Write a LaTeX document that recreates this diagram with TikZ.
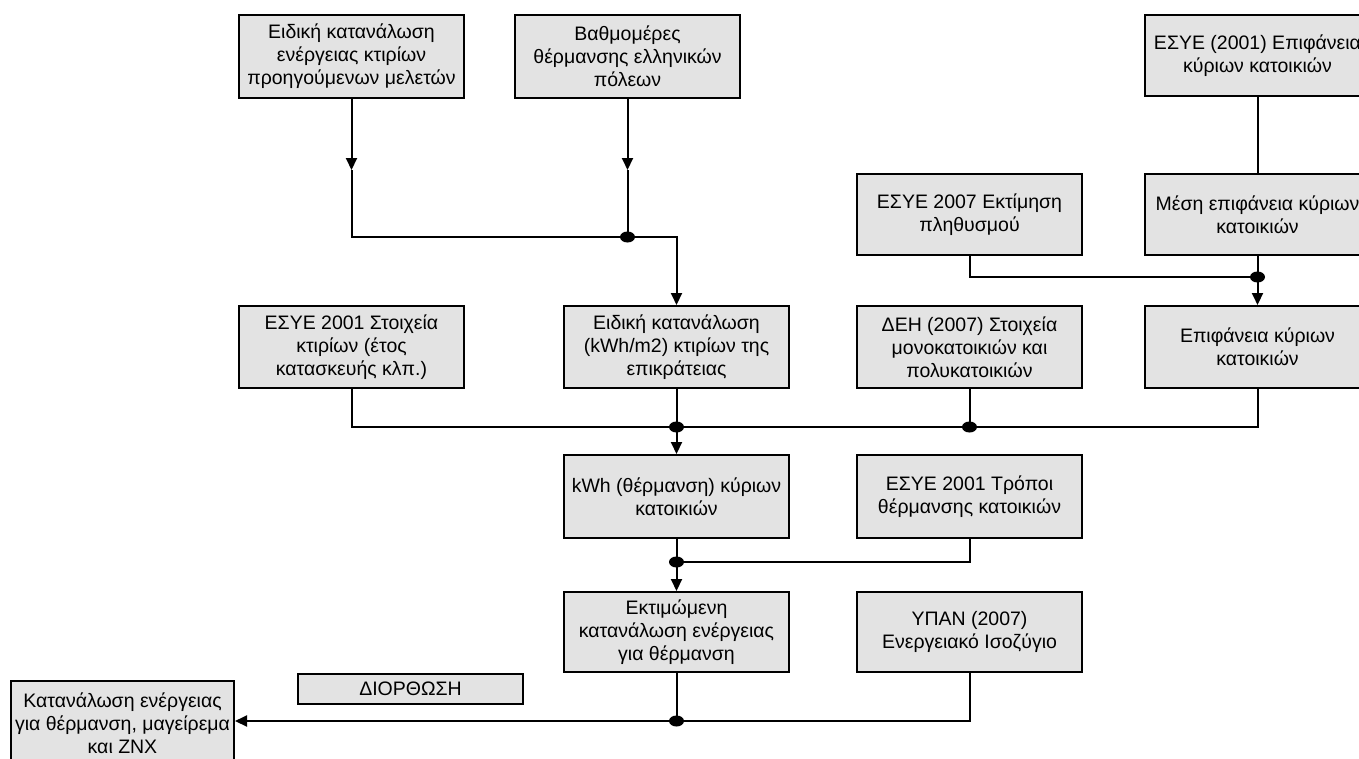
\documentclass[tikz,border=0pt]{standalone}
\usepackage{fontspec}
\setmainfont{Liberation Sans}
\usetikzlibrary{arrows.meta,shapes.geometric}
\definecolor{boxfill}{RGB}{227,227,227}
\begin{document}
\begin{tikzpicture}[x=1pt,y=-1pt,
  box/.style={draw=black, line width=2pt, fill=boxfill, align=center,
    font=\fontsize{19.5}{23}\selectfont, inner sep=0pt, anchor=north west,
    minimum width=225pt, minimum height=83pt},
  conn/.style={line width=2pt, line join=miter},
  arr/.style={conn, -{Triangle[length=12pt,width=11pt]}},
  dot/.style={ellipse, fill=black, inner sep=0pt, minimum width=15pt, minimum height=11pt}]
\useasboundingbox (0,0) rectangle (1359,758);
\clip (0,0) rectangle (1359,758);
% top row
\node[box] (n1) at (238,14) {Ειδική κατανάλωση\\ενέργειας κτιρίων\\προηγούμενων μελετών};
\node[box] (n2) at (514,14) {Βαθμομέρες\\θέρμανσης ελληνικών\\πόλεων};
\node[box, minimum height=81pt] (n3) at (1144,14) {ΕΣΥΕ (2001) Επιφάνεια\\κύριων κατοικιών};
% second row
\node[box, minimum height=81pt] (n4) at (856,173) {ΕΣΥΕ 2007 Εκτίμηση\\πληθυσμού};
\node[box, minimum height=81pt] (n5) at (1144,173) {Μέση επιφάνεια κύριων\\κατοικιών};
% third row
\node[box, minimum height=82pt] (n6) at (238,305) {ΕΣΥΕ 2001 Στοιχεία\\κτιρίων (έτος\\κατασκευής κλπ.)};
\node[box, minimum height=82pt] (n7) at (563,305) {Ειδική κατανάλωση\\(kWh/m2) κτιρίων της\\επικράτειας};
\node[box, minimum height=82pt] (n8) at (856,305) {ΔΕΗ (2007) Στοιχεία\\μονοκατοικιών και\\πολυκατοικιών};
\node[box, minimum height=82pt] (n9) at (1144,305) {Επιφάνεια κύριων\\κατοικιών};
% fourth row
\node[box] (n10) at (563,454) {kWh (θέρμανση) κύριων\\κατοικιών};
\node[box] (n11) at (856,454) {ΕΣΥΕ 2001 Τρόποι\\θέρμανσης κατοικιών};
% fifth row
\node[box, minimum height=80pt] (n12) at (563,591) {Εκτιμώμενη\\κατανάλωση ενέργειας\\για θέρμανση};
\node[box, minimum height=80pt] (n13) at (856,591) {ΥΠΑΝ (2007)\\Ενεργειακό Ισοζύγιο};
% bottom
\node[box, minimum width=223pt, minimum height=84pt] (n14) at (10,680) {Κατανάλωση ενέργειας\\για θέρμανση, μαγείρεμα\\και ΖΝΧ};
\node[box, minimum height=30pt] (n15) at (297,673) {ΔΙΟΡΘΩΣΗ};
% junction coordinates
\coordinate (a1) at (n1.south |- 0,170);
\coordinate (a2) at (n2.south |- 0,170);
\coordinate (j1) at (n2.south |- 0,237);
\coordinate (j2) at (n5.south |- 0,277);
\coordinate (j3) at (n7.south |- 0,427);
\coordinate (j4) at (n8.south |- 0,427);
\coordinate (j5) at (n10.south |- 0,562);
\coordinate (j6) at (n12.south |- 0,721);
% connectors
\draw[arr] (n1.south) -- (a1);
\draw[conn] (a1) |- (j1);
\draw[arr] (n2.south) -- (a2);
\draw[conn] (a2) -- (j1);
\draw[arr] (j1) -| (n7.north);
\draw[conn] (n3.south) -- (n5.north);
\draw[conn] (n4.south) |- (j2);
\draw[arr] (n5.south) -- (n9.north);
\draw[conn] (n6.south) |- (n9.south |- j3) -- (n9.south);
\draw[conn] (n7.south) -- (j3);
\draw[conn] (n8.south) -- (j4);
\draw[arr] (j3) -- (n10.north);
\draw[conn] (n10.south) -- (j5);
\draw[conn] (n11.south) |- (j5);
\draw[arr] (j5) -- (n12.north);
\draw[conn] (n12.south) -- (j6);
\draw[conn] (n13.south) |- (j6);
\draw[arr] (j6) -- (n14.east |- j6);
% dots
\node[dot] (d1) at (j1) {};
\node[dot] (d2) at (j2) {};
\node[dot] (d3) at (j3) {};
\node[dot] (d4) at (j4) {};
\node[dot] (d5) at (j5) {};
\node[dot] (d6) at (j6) {};
\end{tikzpicture}
\end{document}
